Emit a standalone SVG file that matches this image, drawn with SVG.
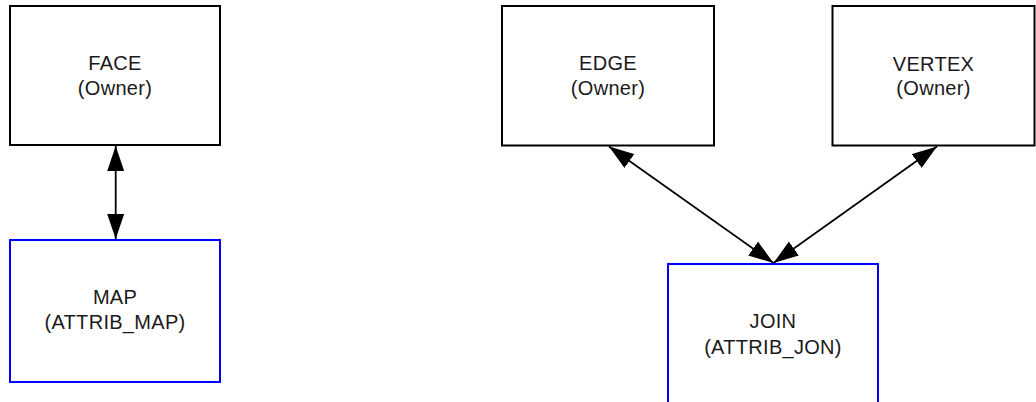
<svg xmlns="http://www.w3.org/2000/svg" width="1036" height="402" viewBox="0 0 1036 402">
  <style>
    .owner { fill: #ffffff; stroke: #000000; stroke-width: 2; }
    .attrib { fill: #ffffff; stroke: #0000ff; stroke-width: 2; }
    .label { font-family: "Liberation Sans", Arial, sans-serif; font-size: 20px; letter-spacing: 0.3px; fill: #1a1a1a; text-anchor: middle; }
    .link { stroke: #000000; stroke-width: 1.8; fill: none; marker-start: url(#head); marker-end: url(#head); }
  </style>
  <defs>
    <marker id="head" markerUnits="userSpaceOnUse" markerWidth="25" markerHeight="17" refX="25" refY="8.5" orient="auto-start-reverse" viewBox="0 0 25 17">
      <path d="M0,0 L25,8.5 L0,17 Z" fill="#000000"/>
    </marker>
  </defs>

  <rect width="1036" height="402" fill="#ffffff"/>

  <g id="connectors">
    <line class="link" x1="115.7" y1="146" x2="115.7" y2="239"/>
    <line class="link" x1="609" y1="146.5" x2="773.5" y2="263"/>
    <line class="link" x1="937" y1="146.5" x2="773.5" y2="263"/>
  </g>

  <g id="face">
    <rect class="owner" x="10" y="6" width="210" height="139"/>
    <text class="label" x="115" y="70">FACE</text>
    <text class="label" x="115" y="94.5">(Owner)</text>
  </g>

  <g id="map">
    <rect class="attrib" x="10" y="240" width="210" height="142"/>
    <text class="label" x="115" y="304">MAP</text>
    <text class="label" x="115" y="329">(ATTRIB_MAP)</text>
  </g>

  <g id="edge">
    <rect class="owner" x="502" y="6" width="212" height="139.5"/>
    <text class="label" x="608" y="70">EDGE</text>
    <text class="label" x="608" y="94.5">(Owner)</text>
  </g>

  <g id="vertex">
    <rect class="owner" x="832.5" y="6" width="202" height="139.5"/>
    <text class="label" x="933.5" y="70.5">VERTEX</text>
    <text class="label" x="933.5" y="94.5">(Owner)</text>
  </g>

  <g id="join">
    <rect class="attrib" x="668" y="264" width="210" height="142"/>
    <text class="label" x="773" y="328">JOIN</text>
    <text class="label" x="773" y="353.5">(ATTRIB_JON)</text>
  </g>
</svg>
